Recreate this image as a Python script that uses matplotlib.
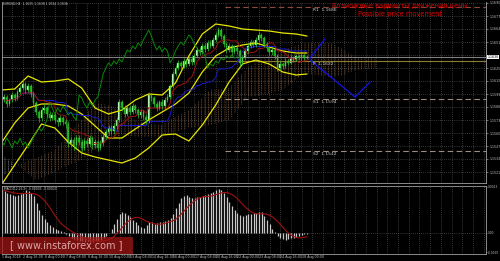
import numpy as np
import pandas as pd
import matplotlib
matplotlib.use("Agg")
import matplotlib.pyplot as plt

# EURUSD H4 candles (bar index 0..114)
first_open = 1.1591
closes = [
    1.1593, 1.1596, 1.1589, 1.1593, 1.1598, 1.1595, 1.1601, 1.1605, 1.1609, 1.1603,
    1.1607, 1.1599, 1.1590, 1.1581, 1.1575, 1.1583, 1.1585, 1.1579, 1.1575, 1.1578,
    1.1573, 1.1571, 1.1575, 1.1571, 1.1569, 1.1550, 1.1553, 1.1548, 1.1555, 1.1551,
    1.1545, 1.1552, 1.1549, 1.1555, 1.1548, 1.1551, 1.1545, 1.1550, 1.1556, 1.1561,
    1.1565, 1.1562, 1.1567, 1.1573, 1.1591, 1.1585, 1.1579, 1.1585, 1.1581, 1.1587,
    1.1583, 1.1578, 1.1581, 1.1576, 1.1573, 1.1598, 1.1595, 1.1589, 1.1585, 1.1591,
    1.1587, 1.1593, 1.1596, 1.1607, 1.1619, 1.1625, 1.1630, 1.1627, 1.1632, 1.1629,
    1.1634, 1.1631, 1.1637, 1.1643, 1.1641, 1.1647, 1.1644, 1.1650, 1.1647, 1.1653,
    1.1658, 1.1663, 1.1657, 1.1649, 1.1643, 1.1647, 1.1641, 1.1645, 1.1642, 1.1630,
    1.1635, 1.1642, 1.1647, 1.1651, 1.1648, 1.1653, 1.1658, 1.1655, 1.1649, 1.1645,
    1.1641, 1.1643, 1.1637, 1.1625, 1.1629, 1.1627, 1.1632, 1.1630, 1.1635, 1.1633,
    1.1637, 1.1635, 1.1638, 1.1635, 1.1636]
highs = [
    1.1596, 1.1599, 1.1598, 1.1595, 1.1601, 1.1600, 1.1604, 1.1608, 1.1614, 1.1611,
    1.1610, 1.1609, 1.1601, 1.1592, 1.1583, 1.1586, 1.1589, 1.1587, 1.1582, 1.1581,
    1.1580, 1.1576, 1.1578, 1.1577, 1.1574, 1.1572, 1.1556, 1.1556, 1.1558, 1.1558,
    1.1554, 1.1555, 1.1555, 1.1558, 1.1557, 1.1554, 1.1553, 1.1553, 1.1559, 1.1564,
    1.1568, 1.1568, 1.1570, 1.1576, 1.1594, 1.1593, 1.1588, 1.1587, 1.1588, 1.1590,
    1.1589, 1.1585, 1.1584, 1.1583, 1.1579, 1.1601, 1.1600, 1.1597, 1.1592, 1.1593,
    1.1594, 1.1596, 1.1599, 1.1609, 1.1622, 1.1628, 1.1633, 1.1632, 1.1635, 1.1634,
    1.1637, 1.1637, 1.1640, 1.1646, 1.1646, 1.1650, 1.1650, 1.1653, 1.1653, 1.1656,
    1.1661, 1.1666, 1.1665, 1.1659, 1.1651, 1.1650, 1.1649, 1.1648, 1.1647, 1.1644,
    1.1638, 1.1644, 1.1650, 1.1654, 1.1653, 1.1656, 1.1662, 1.1660, 1.1657, 1.1651,
    1.1647, 1.1646, 1.1645, 1.1639, 1.1632, 1.1631, 1.1635, 1.1634, 1.1638, 1.1637,
    1.1639, 1.1639, 1.1640, 1.1639, 1.1638]
lows = [
    1.1588, 1.1591, 1.1586, 1.1587, 1.1591, 1.1592, 1.1593, 1.1599, 1.1603, 1.1600,
    1.1601, 1.1596, 1.1587, 1.1578, 1.1571, 1.1572, 1.1580, 1.1576, 1.1572, 1.1573,
    1.1570, 1.1567, 1.1568, 1.1568, 1.1565, 1.1546, 1.1547, 1.1543, 1.1545, 1.1548,
    1.1541, 1.1543, 1.1546, 1.1546, 1.1544, 1.1545, 1.1542, 1.1543, 1.1547, 1.1554,
    1.1558, 1.1559, 1.1559, 1.1564, 1.1571, 1.1582, 1.1576, 1.1577, 1.1578, 1.1579,
    1.1580, 1.1575, 1.1575, 1.1573, 1.1569, 1.1570, 1.1592, 1.1586, 1.1582, 1.1583,
    1.1584, 1.1585, 1.1591, 1.1594, 1.1605, 1.1617, 1.1623, 1.1624, 1.1625, 1.1626,
    1.1627, 1.1628, 1.1629, 1.1635, 1.1638, 1.1639, 1.1641, 1.1642, 1.1645, 1.1645,
    1.1651, 1.1656, 1.1654, 1.1646, 1.1640, 1.1641, 1.1638, 1.1639, 1.1639, 1.1627,
    1.1628, 1.1633, 1.1640, 1.1645, 1.1646, 1.1646, 1.1651, 1.1652, 1.1646, 1.1642,
    1.1638, 1.1638, 1.1634, 1.1622, 1.1623, 1.1624, 1.1625, 1.1628, 1.1629, 1.1631,
    1.1632, 1.1633, 1.1633, 1.1633, 1.1634]

# Bollinger bands
band_idx = [0, 5, 10, 15, 20, 25, 30, 35, 40, 45, 50, 55, 60, 65, 70, 75, 80, 85,
            90, 95, 100, 105, 110, 114]
bb_upper = [1.1603, 1.1604, 1.1617, 1.1611, 1.1612, 1.1614, 1.1605, 1.1585, 1.1579,
            1.1583, 1.1593, 1.1599, 1.1598, 1.1610, 1.1637, 1.1659, 1.1669, 1.1667,
            1.1664, 1.1663, 1.1662, 1.1660, 1.1659, 1.1657]
bb_mid = [1.1550, 1.1570, 1.1585, 1.1589, 1.1589, 1.1587, 1.1579, 1.1567, 1.1555,
          1.1555, 1.1564, 1.1573, 1.1581, 1.1589, 1.1600, 1.1621, 1.1637, 1.1645,
          1.1648, 1.1650, 1.1646, 1.1642, 1.1640, 1.1640]
bb_lower = [1.1508, 1.1528, 1.1548, 1.1569, 1.1565, 1.1551, 1.1540, 1.1536, 1.1533,
            1.1530, 1.1535, 1.1545, 1.1558, 1.1559, 1.1552, 1.1568, 1.1588, 1.1611,
            1.1629, 1.1633, 1.1629, 1.1621, 1.1618, 1.1619]

# Ichimoku cloud (senkou spans, shifted 26 bars ahead)
cloud_idx = [0, 6, 13, 20, 25, 30, 35, 40, 45, 52, 60, 63, 70, 78, 85, 92, 98, 105,
             113, 123, 128, 132, 140]
span_a = [1.1516, 1.1528, 1.1535, 1.1543, 1.1558, 1.1573, 1.1590, 1.1588, 1.1581,
          1.1570, 1.1568, 1.1573, 1.1583, 1.1603, 1.1605, 1.1626, 1.1635, 1.1643,
          1.1650, 1.1650, 1.1643, 1.1636, 1.1636]
span_b = [1.1538, 1.1528, 1.1513, 1.1521, 1.1528, 1.1533, 1.1543, 1.1553, 1.1558,
          1.1556, 1.1556, 1.1560, 1.1565, 1.1568, 1.1573, 1.1596, 1.1598, 1.1603,
          1.1620, 1.1616, 1.1618, 1.1623, 1.1625]

# pivot levels and possible movement paths
pivots = [("R1", 1.1686), ("S1", 1.1594), ("S2", 1.1542)]
pivot_pp = 1.1632
bid = 1.1636
path_up_idx = [115.2, 120.8]
path_up = [1.1635, 1.1654]
path_dn_idx = [115.2, 132.0, 137.6]
path_dn = [1.1633, 1.1596, 1.1611]

# MACD(12,26,9) main line, in points (1e-5)
macd_points = [
    215, 210, 200, 195, 190, 185, 190, 195, 200, 215,
    210, 200, 185, 150, 115, 90, 70, 55, 40, 30,
    20, 15, 10, 5, -5, -15, -25, -30, -35, -40,
    -40, -45, -40, -45, -45, -40, -40, -35, -25, -15,
    0, 20, 45, 70, 95, 105, 100, 90, 80, 65,
    55, 40, 30, 25, 40, 55, 55, 45, 50, 55,
    55, 60, 65, 75, 95, 125, 150, 175, 185, 190,
    180, 175, 175, 180, 180, 185, 190, 195, 200, 205,
    215, 220, 215, 200, 180, 155, 135, 115, 100, 90,
    85, 90, 95, 95, 100, 100, 105, 105, 85, 65,
    45, 20, 5, -15, -25, -30, -35, -30, -25, -25,
    -20, -15, -10, -5, -5]

time_labels = ["1 Aug 2018", "2 Aug 16:00", "6 Aug 00:00", "7 Aug 08:00",
               "8 Aug 16:00", "10 Aug 00:00", "13 Aug 08:00", "14 Aug 16:00",
               "16 Aug 00:00", "17 Aug 08:00", "20 Aug 16:00", "22 Aug 00:00",
               "23 Aug 08:00", "24 Aug 16:00", "28 Aug 00:00"]
price_ticks = [1.1690, 1.1677, 1.1664, 1.1651, 1.1625, 1.1612, 1.1599,
               1.1586, 1.1573, 1.1560, 1.1547, 1.1534, 1.1521]
grid_prices = [1.1690, 1.1677, 1.1664, 1.1651, 1.1638, 1.1625, 1.1612, 1.1599,
               1.1586, 1.1573, 1.1560, 1.1547, 1.1534, 1.1521]
macd_ticks = [0.0023, 0.0, -0.00095]
macd_tick_labels = ["0.0023", "0.00", "-0.0010"]

closes = np.array(closes)
highs = np.array(highs)
lows = np.array(lows)
opens = np.r_[first_open, closes[:-1]]
idx = np.arange(len(closes))
macd = np.array(macd_points) * 1e-5
signal = pd.Series(macd).rolling(9, min_periods=1).mean().values
tenkan = (pd.Series(highs).rolling(9, min_periods=1).max() +
          pd.Series(lows).rolling(9, min_periods=1).min()).values / 2
kijun = (pd.Series(highs).rolling(26, min_periods=1).max() +
         pd.Series(lows).rolling(26, min_periods=1).min()).values / 2

W, H = 500, 261
fig = plt.figure(figsize=(5, 2.61), dpi=100, facecolor="black")
x0, x1 = 0.26, 180.86
grid_kw = dict(color="#6a6a6a", lw=0.5, ls=(0, (1, 2)))
grey = "#a0a0a0"
small = 2.3
plt.rcParams["hatch.linewidth"] = 0.5

ax = fig.add_axes([2 / W, 1 - 183 / H, 484 / W, 181 / H], facecolor="black")
ax.set_xlim(x0, x1)
ax.set_ylim(1.1510, 1.1691)
for g in range(0, 181, 4):
    ax.axvline(g, **grid_kw)
for p in grid_prices:
    ax.axhline(p, **grid_kw)

# cloud: vertical dotted hatching, broken into dots by a black horizontal hatch
a, b = np.array(span_a), np.array(span_b)
ax.fill_between(cloud_idx, a, b, where=a >= b, interpolate=True, facecolor="none",
                edgecolor="#7a5233", hatch="|||||", lw=0)
ax.fill_between(cloud_idx, a, b, where=a < b, interpolate=True, facecolor="none",
                edgecolor="#808080", hatch="|||||", lw=0)
ax.fill_between(cloud_idx, a, b, facecolor="none", edgecolor="black",
                hatch="-------", lw=0)

# pivots
for name, val in pivots:
    col = "#8c4a3a" if name == "R1" else "#9c8c84"
    ax.plot([83.5, x1], [val, val], color=col, lw=0.8, ls=(0, (5, 3)))
    ax.text(116.3, val - 0.0001, f"{name}  {val:.4f}", color="#c8c8c8",
            fontsize=3.2, va="top", ha="left")
ax.plot([83.9, x1], [pivot_pp, pivot_pp], color="#8a7d2e", lw=0.8)
ax.text(116.3, pivot_pp - 0.0001, f"P  {pivot_pp:.4f}", color="#c8c8c8",
        fontsize=3.2, va="top", ha="left")
ax.axhline(bid, color="#9a9a9a", lw=0.6)

# bands and ichimoku lines
for band in (bb_upper, bb_mid, bb_lower):
    ax.plot(band_idx, band, color="#e6e600", lw=0.9)
ax.plot(idx, kijun, color="#1a1acc", lw=0.7)
ax.plot(idx, tenkan, color="#a01010", lw=0.7)
ax.plot(idx - 26, closes, color="#0a8a0a", lw=0.7)

# candles
up = closes >= opens
ax.vlines(idx, lows, highs, color="#30c030", lw=0.5)
body_lo = np.minimum(opens, closes)
body_h = np.maximum(np.abs(closes - opens), 0.00004)
ax.bar(idx[up], body_h[up], bottom=body_lo[up], width=0.62, color="#d8ffd8",
       edgecolor="#30c030", lw=0.3)
ax.bar(idx[~up], body_h[~up], bottom=body_lo[~up], width=0.62, color="#10a010",
       edgecolor="#30c030", lw=0.3)

# possible movement
ax.plot(path_up_idx, path_up, color="#1414e6", lw=0.9)
ax.plot(path_dn_idx, path_dn, color="#1414e6", lw=0.9)
ax.text(148.8, 1.1687, "Возможные варианты движения цены", color="#e00000",
        fontsize=4.8, ha="center", va="center")
ax.text(148.8, 1.1679, "Possible price movement", color="#e00000",
        fontsize=4.8, ha="center", va="center")

ax.text(0.6, 1.1689, "EURUSD,H4  1.1635 1.1638 1.1634 1.1636", color="#d0d0d0",
        fontsize=2.2, va="center")

ax.yaxis.tick_right()
ax.set_yticks(price_ticks)
ax.set_yticklabels([f"{p:.4f}" for p in price_ticks])
ax.tick_params(axis="y", colors="#c0c0c0", labelsize=small, length=1.5, width=0.4,
               pad=0.8)
ax.set_xticks([])
ax.text(x1 + 0.6, bid, f"{bid:.4f}", color="black", fontsize=small, va="center",
        ha="left", bbox=dict(boxstyle="square,pad=0.15", fc="white", ec="none"),
        clip_on=False)
for s in ax.spines.values():
    s.set_color(grey)
    s.set_linewidth(0.6)
ax.spines["top"].set_visible(False)

# MACD window
mx = fig.add_axes([2 / W, 1 - 254 / H, 484 / W, 68 / H], facecolor="black")
mx.set_xlim(x0, x1)
mx.set_ylim(-0.00105, 0.00235)
for g in range(0, 181, 4):
    mx.axvline(g, **grid_kw)
mx.axhline(0, **grid_kw)
mx.vlines(idx, 0, macd, color="#c8c8c8", lw=0.9)
mx.plot(idx, signal, color="#a01010", lw=0.8)
mx.text(0.6, 0.0022, "MACD(12,26,9) -0.00005 -0.00020", color="#d0d0d0",
        fontsize=2.2, va="center")
mx.yaxis.tick_right()
mx.set_yticks(macd_ticks)
mx.set_yticklabels(macd_tick_labels)
mx.tick_params(axis="y", colors="#c0c0c0", labelsize=2.1, length=1.0, width=0.4,
               pad=0.5)
mx.set_xticks([8 * k for k in range(len(time_labels))])
mx.set_xticklabels(time_labels, ha="left")
mx.tick_params(axis="x", colors="#c0c0c0", labelsize=small, length=0, pad=1)
for s in mx.spines.values():
    s.set_color(grey)
    s.set_linewidth(0.6)

# watermark
fig.patches.append(plt.Rectangle((0, 7 / H), 133 / W, 17 / H, transform=fig.transFigure,
                                 facecolor="#a01515", alpha=0.75, lw=0))
fig.text(66 / W, 15.5 / H, "[ www.instaforex.com ]", color="#f2caca", alpha=0.8,
         fontsize=7, ha="center", va="center")

fig.savefig("out.png", dpi=100, facecolor="black")
